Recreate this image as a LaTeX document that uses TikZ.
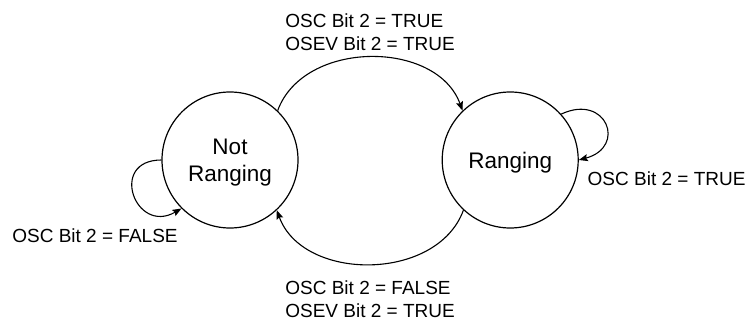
\documentclass[tikz,border=0pt]{standalone}
\usepackage{fontspec}
\setmainfont{Liberation Sans}
\usetikzlibrary{arrows.meta, positioning}

\begin{document}
\begin{tikzpicture}[
    x=1pt, y=1pt,
    state/.style={circle, draw, line width=1.2pt, minimum size=136pt, inner sep=0pt, align=center, text depth=0pt, font=\fontsize{22.5}{27}\selectfont},
    arrow/.style={-{Stealth[length=9pt, width=7pt, inset=1.5pt]}, line width=1.1pt},
    cond/.style={font=\fontsize{19}{22.5}\selectfont, align=left},
    node distance=143pt
]
    \useasboundingbox (0,0) rectangle (746,-320);
    \node[state] (notr) at (230,-160) {Not\\Ranging};
    \node[state, right=of notr] (rng) {Ranging};
    \draw[arrow] (notr.46) to[out=70, in=110, looseness=1.05] node[cond, above=3pt] {OSC Bit 2 = TRUE\\OSEV Bit 2 = TRUE} (rng.134);
    \draw[arrow] (rng.227) to[out=250, in=290, looseness=1.05] node[cond, below=13pt] {OSC Bit 2 = FALSE\\OSEV Bit 2 = TRUE} (notr.313);
    \draw[arrow] (notr.180) to[out=180, in=210, looseness=2.6] node[cond, pos=1, anchor=north east, yshift=-16pt] {OSC Bit 2 = FALSE} (notr.225);
    \draw[arrow] (rng.42) to[out=25, in=15, looseness=2.6] node[cond, pos=1, anchor=north west, xshift=5pt, yshift=-8pt] {OSC Bit 2 = TRUE} (rng.0);
\end{tikzpicture}
\end{document}
